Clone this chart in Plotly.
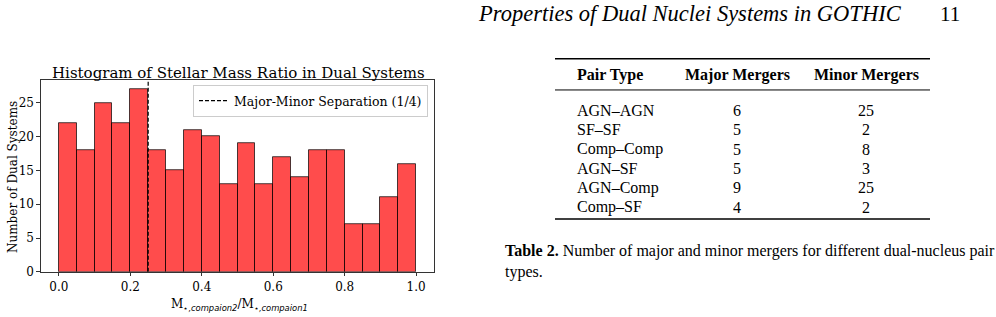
import plotly.graph_objects as go

# ---------------- data ----------------
bin_lo = [0.00, 0.05, 0.10, 0.15, 0.20, 0.25, 0.30, 0.35, 0.40, 0.45,
          0.50, 0.55, 0.60, 0.65, 0.70, 0.75, 0.80, 0.85, 0.90, 0.95]
counts = [22, 18, 25, 22, 27, 18, 15, 21, 20, 13,
          19, 13, 17, 14, 18, 18, 7, 7, 11, 16]
bin_width = 0.05
separation = 0.25

pair_types = ["AGN–AGN", "SF–SF", "Comp–Comp", "AGN–SF", "AGN–Comp", "Comp–SF"]
major_mergers = [6, 5, 5, 5, 9, 4]
minor_mergers = [25, 2, 8, 3, 25, 2]
table_header = ["Pair Type", "Major Mergers", "Minor Mergers"]

W, H = 996, 317
def px(x):
    return x / W
def py(y):
    return 1 - y / H

SERIF = "DejaVu Serif"
TIMES = "Liberation Serif"

centers = [b + bin_width / 2 for b in bin_lo]
ymax = max(counts) * 1.05

fig = go.Figure()
fig.add_trace(go.Bar(
    x=centers, y=counts, width=bin_width,
    marker=dict(color="rgba(255,0,0,0.7)",
                line=dict(color="rgba(0,0,0,0.7)", width=1)),
    showlegend=False, hoverinfo="skip"))
fig.add_trace(go.Scatter(
    x=[separation, separation], y=[0, ymax], mode="lines",
    line=dict(color="black", dash="4px,2px", width=1.2),
    name="Major-Minor Separation (1/4)", showlegend=True))

axis_common = dict(showline=True, mirror=True, linecolor="#333", linewidth=1.2,
                   ticks="outside", ticklen=3.5, tickcolor="#333",
                   showgrid=False, zeroline=False,
                   tickfont=dict(family=SERIF, size=12, color="black"))
fig.update_xaxes(domain=[px(41), px(434)], range=[-0.05, 1.05],
                 tickvals=[0, 0.2, 0.4, 0.6, 0.8, 1.0],
                 ticktext=["0.0", "0.2", "0.4", "0.6", "0.8", "1.0"],
                 **axis_common)
fig.update_yaxes(domain=[py(278), py(82)], range=[0, ymax],
                 tickvals=[0, 5, 10, 15, 20, 25], **axis_common)

ann = []
# chart title
ann.append(dict(x=px(238), y=py(75), xref="paper", yref="paper",
                text="Histogram of Stellar Mass Ratio in Dual Systems",
                showarrow=False, font=dict(family=SERIF, size=15, color="black"),
                xanchor="center", yanchor="middle"))
# y label
ann.append(dict(x=px(13), y=py(181), xref="paper", yref="paper",
                text="Number of Dual Systems", textangle=-90,
                showarrow=False, font=dict(family=SERIF, size=12, color="black"),
                xanchor="center", yanchor="middle"))
# x label
sub = "<span style='font-family:DejaVu Sans;font-style:italic'>"
ann.append(dict(x=px(239), y=py(312), xref="paper", yref="paper",
                text="M<sub>⋆," + sub + "compaion2</span></sub>/M<sub>⋆," + sub + "compaion1</span></sub>",
                showarrow=False, font=dict(family=SERIF, size=12, color="black"),
                xanchor="center", yanchor="middle"))

# page header
ann.append(dict(x=px(690), y=py(14), xref="paper", yref="paper",
                text="<i>Properties of Dual Nuclei Systems in GOTHIC</i>",
                showarrow=False, font=dict(family=TIMES, size=22.5, color="black"),
                xanchor="center", yanchor="middle"))
ann.append(dict(x=px(962), y=py(14), xref="paper", yref="paper",
                text="11", showarrow=False,
                font=dict(family=TIMES, size=21, color="black"),
                xanchor="right", yanchor="middle"))

# table
col_x = [575, 737, 866]
col_anchor = ["left", "center", "center"]
for i, h in enumerate(table_header):
    ann.append(dict(x=px(col_x[i]), y=py(77), xref="paper", yref="paper",
                    text="<b>" + h + "</b>", showarrow=False,
                    font=dict(family=TIMES, size=16, color="black"),
                    xanchor=col_anchor[i], yanchor="middle"))
row_y0, row_dy = 113, 19.8
for r, (p, a, b) in enumerate(zip(pair_types, major_mergers, minor_mergers)):
    yy = py(row_y0 + r * row_dy)
    for i, v in enumerate([p, a, b]):
        ann.append(dict(x=px(col_x[i]), y=yy, xref="paper", yref="paper",
                        text=str(v), showarrow=False,
                        font=dict(family=TIMES, size=16, color="black"),
                        xanchor=col_anchor[i], yanchor="middle"))

# caption
ann.append(dict(x=px(503), y=py(257), xref="paper", yref="paper",
                text="<b>Table 2.</b> Number of major and minor mergers for different dual-nucleus pair",
                showarrow=False, font=dict(family=TIMES, size=16, color="black"),
                xanchor="left", yanchor="middle"))
ann.append(dict(x=px(503), y=py(278), xref="paper", yref="paper",
                text="types.", showarrow=False,
                font=dict(family=TIMES, size=16, color="black"),
                xanchor="left", yanchor="middle"))

shapes = []
for yline, w in [(60, 1.5), (92, 1.0), (224, 1.5)]:
    shapes.append(dict(type="line", xref="paper", yref="paper",
                       x0=px(555), x1=px(930), y0=py(yline), y1=py(yline),
                       line=dict(color="black", width=w)))

fig.update_layout(
    width=W, height=H, margin=dict(l=0, r=0, t=0, b=0),
    plot_bgcolor="white", paper_bgcolor="white",
    annotations=ann, shapes=shapes, bargap=0,
    legend=dict(x=px(193), y=py(87), xanchor="left", yanchor="top",
                bgcolor="rgba(255,255,255,0.8)", bordercolor="#ccc", borderwidth=1,
                font=dict(family=SERIF, size=12.5, color="black"),
                itemwidth=30, tracegroupgap=0),
)

fig.write_html("out.html")
